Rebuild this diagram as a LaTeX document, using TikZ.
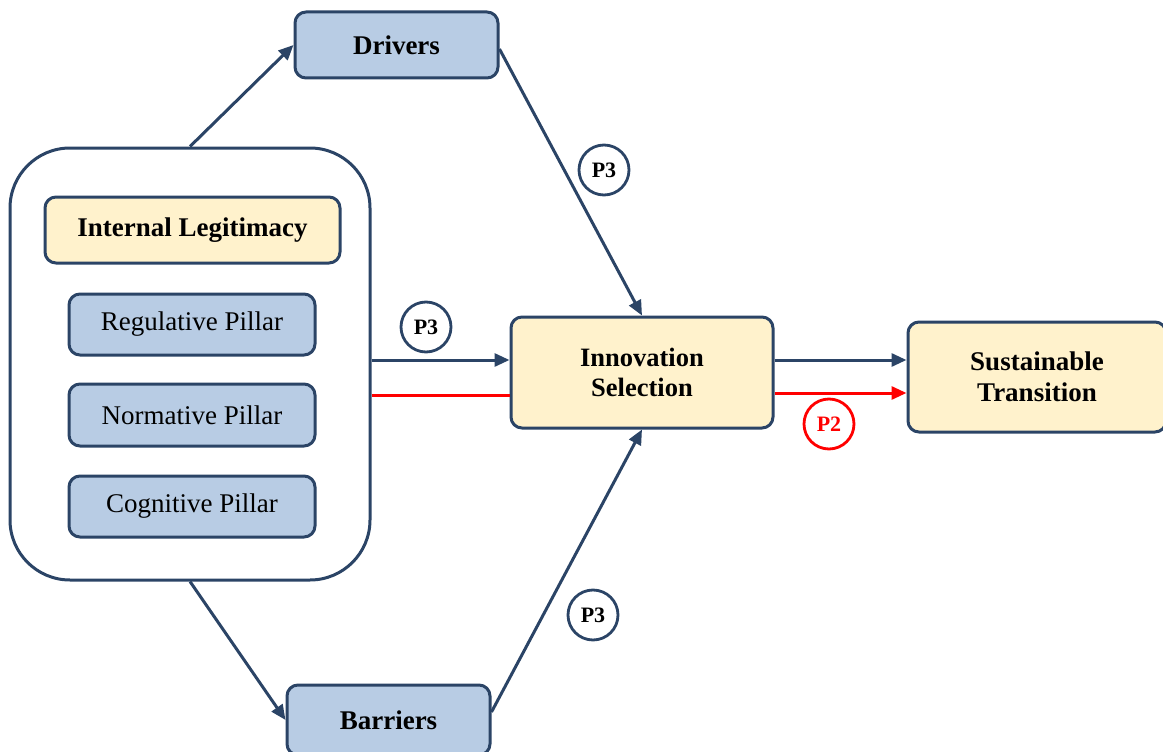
\documentclass[tikz,border=0pt]{standalone}
\usepackage{fontspec}
\setmainfont{Liberation Serif}
\usetikzlibrary{arrows.meta,calc}
\definecolor{navy}{HTML}{2B4466}
\definecolor{paleblue}{HTML}{B8CCE4}
\definecolor{cream}{HTML}{FFF2CC}
\definecolor{hotred}{HTML}{FF0000}
\tikzset{
  box/.style={draw=navy, line width=3pt, rounded corners=11pt, align=center,
    inner sep=0pt, font=\fontsize{27}{31}\selectfont},
  boldtext/.style={font=\fontsize{27}{31}\selectfont\bfseries},
  bluebox/.style={box, fill=paleblue},
  creambox/.style={box, fill=cream},
  tag/.style={circle, draw=navy, line width=2.8pt, fill=white, minimum size=50pt,
    inner sep=0pt, font=\fontsize{22}{23}\selectfont\bfseries},
  arr/.style={draw=navy, line width=3pt, -{Triangle[length=15pt,width=13pt]}},
  redline/.style={draw=hotred, line width=3pt},
}
\begin{document}
\begin{tikzpicture}[x=1pt,y=-1pt]
\useasboundingbox (0,0) rectangle (1163,752);

% outer legitimacy container and its contents
\node[draw=navy, line width=3pt, rounded corners=60pt, fill=white,
      minimum width=360pt, minimum height=432pt] (L) at (190,364) {};
\node[creambox, boldtext, minimum width=295pt, minimum height=66pt]
  (IL) at (192.5,230) {Internal Legitimacy};
\node[bluebox, minimum width=246pt, minimum height=61pt] (reg) at (192,324.5) {Regulative Pillar};
\node[bluebox, minimum width=246pt, minimum height=62pt] (nor) at (192,415) {Normative Pillar};
\node[bluebox, minimum width=246pt, minimum height=61pt] (cog) at (192,506.5) {Cognitive Pillar};

% drivers and barriers
\node[bluebox, boldtext, minimum width=203pt, minimum height=66pt]
  (drv) at (396.5,45) {Drivers};
\node[bluebox, boldtext, minimum width=203pt, minimum height=70pt]
  (bar) at (388.5,720) {Barriers};

% outcome boxes
\node[creambox, minimum width=262pt, minimum height=111pt, font=\fontsize{26.5}{30}\selectfont\bfseries]
  (inno) at (642,372.5) {Innovation\\Selection};
\node[creambox, boldtext, minimum width=258pt, minimum height=110pt]
  (sus) at (1037,377) {Sustainable\\Transition};

% connector levels
\coordinate (yn) at (0,360);
\coordinate (yr) at (0,395);
\coordinate (yr2) at (0,393);

% connectors
\draw[arr] (L.north) -- (drv.west);
\draw[arr] (L.south) -- (bar.west);
\draw[arr] ([yshift=-4pt]drv.east) -- (inno.north);
\draw[arr] ([yshift=8pt]bar.east) -- (inno.south);
\draw[arr] (L.east |- yn) -- (inno.west |- yn);
\draw[redline] (L.east |- yr) -- (inno.west |- yr);
\draw[arr] (inno.east |- yn) -- (sus.west |- yn);
\draw[redline, -{Triangle[length=15pt,width=13pt]}] (inno.east |- yr2) -- (sus.west |- yr2);

% proposition labels
\node[tag] (p3a) at (604,170) {P3};
\node[tag] (p3b) at (426,327) {P3};
\node[tag] (p3c) at (593,615) {P3};
\node[tag, draw=hotred, text=hotred] (p2) at (829,424) {P2};
\end{tikzpicture}
\end{document}
